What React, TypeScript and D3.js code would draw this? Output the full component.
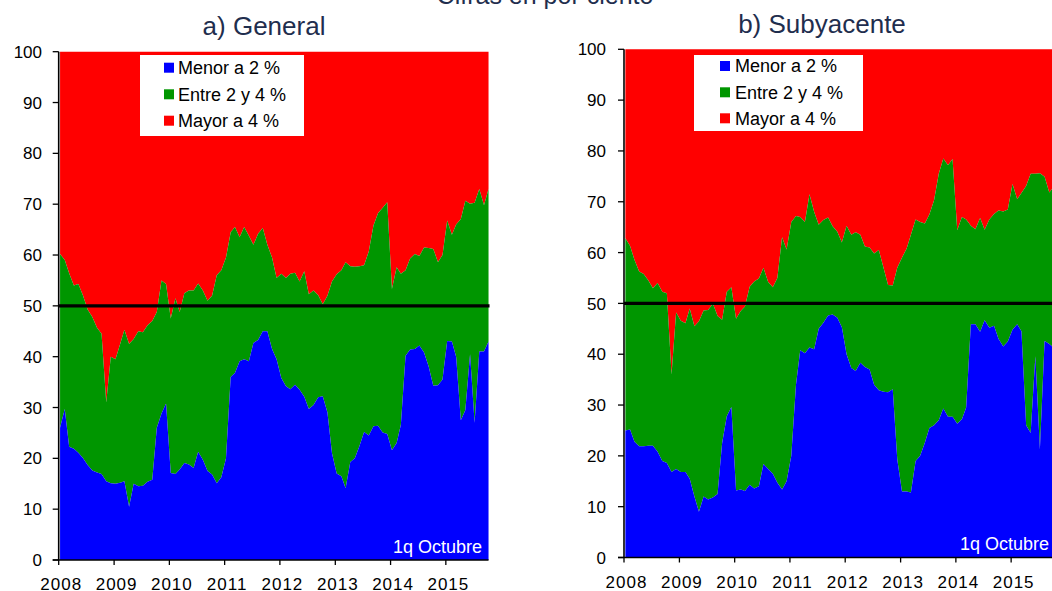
import React from 'react';
import * as d3 from 'd3';

// Monthly readings, Jan 2008 .. Oct 2015 (first fortnight)
// "General": share below 2 % and cumulative share below 4 %
const generalMenor: number[] = [
  26, 29.7, 22.3, 21.9, 21.1, 20, 18.7, 17.6, 17.2, 16.9, 15.5, 15.1,
  15.0, 15.2, 15.5, 10.5, 15.0, 14.5, 14.6, 15.4, 15.8, 26, 28.8, 30.8,
  17.1, 16.9, 17.8, 19.1, 18.8, 18.1, 21.3, 19.7, 17.5, 16.8, 15.1, 16.3,
  20, 36, 36.8, 39.1, 39.5, 39.1, 42.7, 43.3, 45, 45, 41.5, 39.5,
  35.8, 34.2, 33.6, 34.5, 33.5, 32.1, 29.7, 30.5, 32, 32.2, 29, 21,
  17, 16.5, 14.1, 19.3, 20, 22.5, 25.2, 24.5, 26.3, 26.4, 25.1, 24.8,
  21.6, 23, 26.6, 40.2, 41.4, 41.5, 42.2, 40.8, 38, 34.3, 34.4, 35.5,
  43.1, 43, 40, 27.5, 29.5, 40.5, 27, 41, 41, 43,
];
const generalHasta4: number[] = [
  60.2, 59.0, 56.4, 54.0, 54.3, 52, 49.3, 47.8, 45.7, 44.5, 31, 40,
  39.5, 42.5, 45.3, 42.5, 43.5, 45, 44.8, 46.2, 47, 48.8, 55, 54.3,
  47.5, 51.5, 48.8, 52.5, 53, 53, 54.4, 53, 51, 52, 56, 57,
  59.5, 64.5, 65.5, 63.5, 65.5, 63.8, 62, 64.2, 65.3, 62, 59.5, 55.5,
  56.3, 55.5, 56.3, 56.5, 54.8, 56.8, 52.3, 53, 52.1, 50.3, 52, 54.8,
  56.2, 57, 58.6, 57.8, 57.7, 57.8, 58, 60.7, 65.8, 68.2, 69.3, 70.4,
  53.3, 57.6, 56.3, 57, 59.3, 60.2, 59.8, 61.5, 61.4, 61.2, 58.6, 60,
  66.8, 64, 66, 67.1, 70.7, 70.1, 70.3, 73, 69.8, 73,
];
// "Subyacente"
const subMenor: number[] = [
  25, 25.2, 22.8, 21.9, 21.9, 22, 22, 20.8, 19, 18.6, 16.8, 17.4,
  16.8, 16.8, 15.5, 12, 9, 12, 11.4, 11.8, 12.5, 22.5, 27.8, 29.6,
  13.2, 13.4, 13.1, 14.3, 13.6, 14, 18.4, 17.4, 16.5, 14.7, 13.4, 15,
  20, 34, 40.8, 40.2, 41.3, 41, 45, 46.2, 47.6, 47.8, 47.2, 45.3,
  40, 37.3, 36.7, 38.3, 37.5, 37, 34, 32.9, 32.6, 32.5, 33.1, 19.3,
  13, 13, 12.8, 19, 20, 22.6, 25.5, 26, 27, 29.3, 27.7, 27.7,
  26.3, 27.2, 29.5, 45.9, 45.9, 44.4, 46.7, 45.2, 45.6, 43, 41.5, 42.5,
  44.8, 45.9, 44.5, 26, 24.5, 39.6, 21.3, 42.6, 42, 41.3,
];
const subHasta4: number[] = [
  62.8, 61.3, 58.6, 56.3, 55.8, 54.5, 53, 54, 52.3, 52, 36, 48.2,
  46.6, 46.1, 49, 45.5, 46.5, 48.6, 48.7, 50, 47.5, 46.8, 52.3, 53.2,
  47, 48.5, 49.4, 53.3, 54.3, 54.9, 57, 54.2, 53.2, 55, 63, 60.6,
  66, 67.2, 67, 66, 71.5, 68, 65.5, 66.4, 66.9, 65.2, 64.1, 62,
  65.3, 63.5, 64, 63.5, 61.2, 61, 59.8, 60.5, 57, 53.6, 53.5, 57,
  59, 60.8, 63.5, 66.5, 66, 65.7, 67.5, 70.3, 75.5, 78.5, 77.2, 78.4,
  64.4, 67, 66.5, 65.3, 64.6, 66.8, 64.5, 66.5, 67.6, 68.3, 68.1, 68.5,
  73.5, 70.5, 71.7, 73.1, 75.5, 75.5, 75.6, 74.9, 71.8, 73,
];

const yearTicks: number[] = [2008, 2009, 2010, 2011, 2012, 2013, 2014, 2015];
const valueTicks: number[] = [0, 10, 20, 30, 40, 50, 60, 70, 80, 90, 100];
const legendLabels: string[] = ['Menor a 2 %', 'Entre 2 y 4 %', 'Mayor a 4 %'];
const legendColors: string[] = ['#0000FF', '#009600', '#FF0000'];
const mainTitle = 'Cifras en por ciento';
const noteText = '1q Octubre';
const threshold = 50;

const FONT = "Arial, 'Liberation Sans', Helvetica, sans-serif";
const TITLE_COLOR = '#1F2E4E';

interface PanelProps {
  title: string;
  low: number[];
  cum: number[];
  ox: number;
  top: number;
  bottom: number;
  labelRight: number;
  titleX: number;
  titleY: number;
  legend: { x: number; y: number; w: number; h: number; sw: number; tx: number; rows: number[] };
  note: { x: number; y: number };
}

function Panel(p: PanelProps) {
  const x = d3
    .scaleTime()
    .domain([new Date(2008, 0, 1), new Date(2016, 0, 1)])
    .range([p.ox, p.ox + 8 * 55.3]);
  const y = d3.scaleLinear().domain([0, 100]).range([p.bottom, p.top]);
  const dates = p.low.map((_, i) => new Date(2008, i, 10));
  const idx = d3.range(p.low.length);
  const xi = (i: number) => x(dates[i]);
  const areaLow = d3.area<number>().x(xi).y0(y(0)).y1((i) => y(p.low[i]))(idx) || '';
  const areaMid = d3
    .area<number>()
    .x(xi)
    .y0((i) => y(p.low[i]))
    .y1((i) => y(p.low[i] + (p.cum[i] - p.low[i])))(idx) || '';
  const areaHigh = d3
    .area<number>()
    .x(xi)
    .y0((i) => y(p.cum[i]))
    .y1(y(100))(idx) || '';
  const xEnd = xi(idx.length - 1);
  return (
    <g>
      <text x={p.titleX} y={p.titleY} textAnchor="middle" fontSize={26} fill={TITLE_COLOR} fontFamily={FONT}>
        {p.title}
      </text>
      <path d={areaHigh} fill={legendColors[2]} />
      <path d={areaMid} fill={legendColors[1]} />
      <path d={areaLow} fill={legendColors[0]} />
      <line x1={p.ox} x2={xEnd + 1} y1={y(threshold)} y2={y(threshold)} stroke="#000" strokeWidth={3.2} />
      {/* y axis */}
      <line x1={p.ox} x2={p.ox} y1={y(100)} y2={y(0)} stroke="#000" strokeWidth={1.6} />
      {valueTicks.map((v) => (
        <g key={v}>
          <line x1={p.ox - 6} x2={p.ox} y1={y(v)} y2={y(v)} stroke="#000" strokeWidth={1.3} />
          <text x={p.labelRight} y={y(v)} dy="0.36em" textAnchor="end" fontSize={17} fontFamily={FONT} fill="#000">
            {v}
          </text>
        </g>
      ))}
      {/* x axis */}
      <line x1={p.ox - 6} x2={xEnd} y1={y(0)} y2={y(0)} stroke="#000" strokeWidth={1.6} />
      {yearTicks.map((yr) => {
        const tx = x(new Date(yr, 0, 1));
        return (
          <g key={yr}>
            <line x1={tx} x2={tx} y1={y(0)} y2={y(0) + 5} stroke="#000" strokeWidth={1.3} />
            <text x={tx + 2.5} y={p.bottom + 30} textAnchor="middle" fontSize={17} letterSpacing={1} fontFamily={FONT} fill="#000">
              {yr}
            </text>
          </g>
        );
      })}
      {/* legend */}
      <rect x={p.legend.x} y={p.legend.y} width={p.legend.w} height={p.legend.h} fill="#fff" />
      {legendLabels.map((lab, i) => (
        <g key={lab}>
          <rect x={p.legend.sw} y={p.legend.rows[i] - 5} width={10} height={10} fill={legendColors[i]} />
          <text x={p.legend.tx} y={p.legend.rows[i]} dy="0.36em" fontSize={18} fontFamily={FONT} fill="#000">
            {lab}
          </text>
        </g>
      ))}
      <text x={p.note.x} y={p.note.y} textAnchor="end" fontSize={18} fontFamily={FONT} fill="#fff">
        {noteText}
      </text>
    </g>
  );
}

export default function App() {
  return (
    <svg
      width={1052}
      height={591}
      viewBox="0 0 1052 591"
      style={{ position: 'absolute', left: 0, top: 0, background: '#fff', display: 'block' }}
    >
      <rect x={0} y={0} width={1052} height={591} fill="#fff" />
      <text x={545} y={4} textAnchor="middle" fontSize={25} fill={TITLE_COLOR} fontFamily={FONT}>
        {mainTitle}
      </text>
      <Panel
        title="a) General"
        low={generalMenor}
        cum={generalHasta4}
        ox={58.7}
        top={51.7}
        bottom={560}
        labelRight={42}
        titleX={264}
        titleY={35}
        legend={{ x: 140, y: 55, w: 164, h: 81, sw: 164, tx: 178, rows: [67.7, 94.3, 120.7] }}
        note={{ x: 482, y: 553 }}
      />
      <Panel
        title="b) Subyacente"
        low={subMenor}
        cum={subHasta4}
        ox={624}
        top={49.3}
        bottom={557.5}
        labelRight={606}
        titleX={822}
        titleY={33}
        legend={{ x: 694, y: 55, w: 169, h: 76, sw: 720, tx: 735, rows: [66, 92.3, 118.3] }}
        note={{ x: 1049, y: 550 }}
      />
    </svg>
  );
}
